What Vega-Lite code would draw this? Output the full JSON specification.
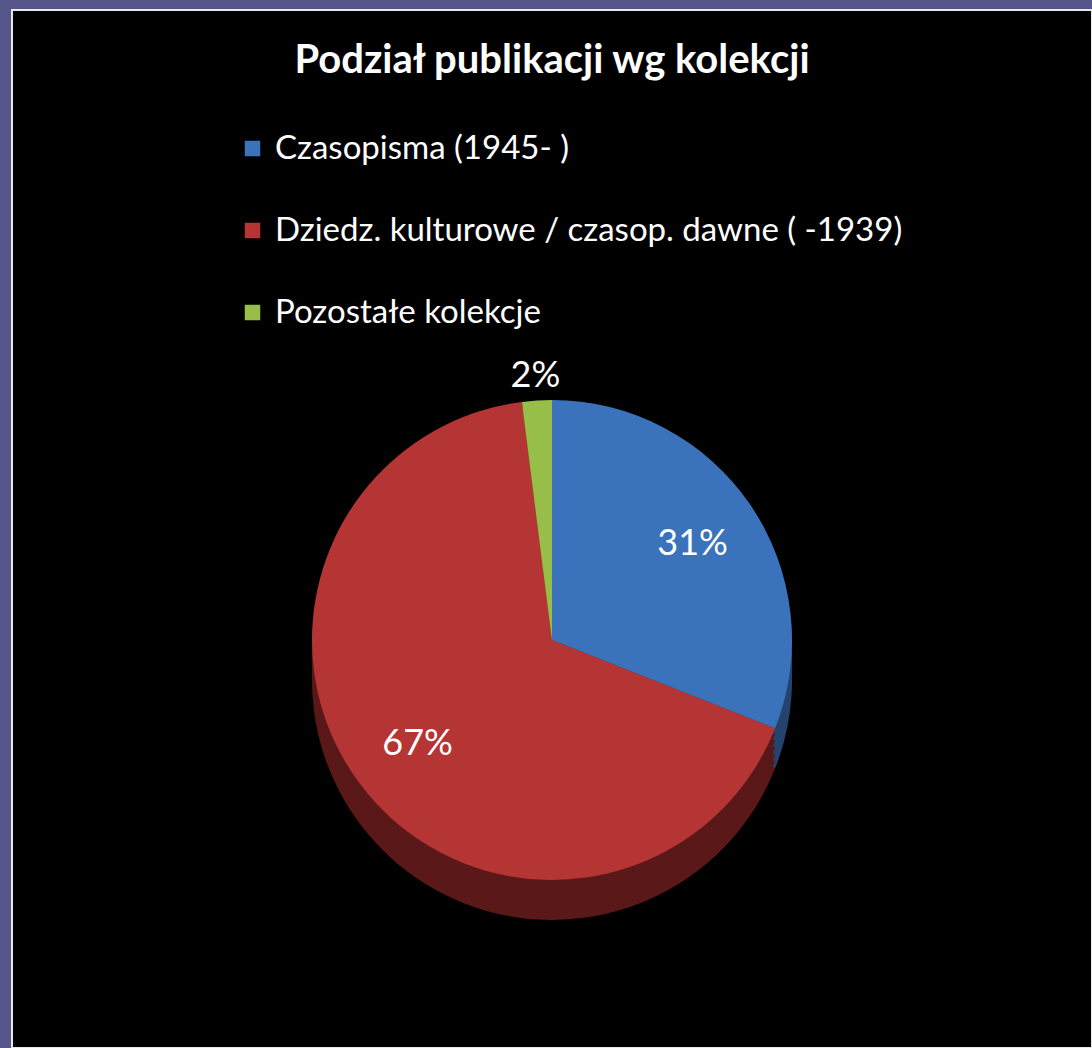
{
  "$schema": "https://vega.github.io/schema/vega-lite/v6.json",
  "width": 1092,
  "height": 1048,
  "autosize": {"type": "fit", "contains": "padding"},
  "padding": {"left": 12, "top": 10, "right": 0, "bottom": 0},
  "background": "#55568a",
  "view": {"fill": "black", "stroke": "#e8e8e8", "strokeWidth": 2},
  "title": {
    "text": "Podział publikacji wg kolekcji",
    "color": "white",
    "font": "Lato",
    "fontSize": 40,
    "fontWeight": "bold",
    "anchor": "middle",
    "offset": -71
  },
  "data": {
    "values": [
      {"k": "Czasopisma (1945- )", "v": 31, "label": "31%"},
      {"k": "Dziedz. kulturowe / czasop. dawne ( -1939)", "v": 67, "label": "67%"},
      {"k": "Pozostałe kolekcje", "v": 2, "label": "2%"}
    ]
  },
  "encoding": {
    "theta": {"field": "v", "type": "quantitative", "stack": true},
    "order": {"field": "k", "type": "ordinal", "sort": "ascending"}
  },
  "resolve": {"scale": {"color": "independent"}, "legend": {"color": "independent"}},
  "layer": [
    {
      "encoding": {
        "color": {"field": "k", "type": "nominal", "legend": null,
          "scale": {"domain": ["Czasopisma (1945- )", "Dziedz. kulturowe / czasop. dawne ( -1939)", "Pozostałe kolekcje"], "range": ["#24446e", "#5a1818", "#5c7a2a"]}}
      },
      "layer": [
        {"mark": {"type": "arc", "outerRadius": 240, "yOffset": 151}},
        {"mark": {"type": "arc", "outerRadius": 240, "yOffset": 144}},
        {"mark": {"type": "arc", "outerRadius": 240, "yOffset": 137}},
        {"mark": {"type": "arc", "outerRadius": 240, "yOffset": 130}},
        {"mark": {"type": "arc", "outerRadius": 240, "yOffset": 123}},
        {"mark": {"type": "arc", "outerRadius": 240, "yOffset": 117}}
      ]
    },
    {
      "mark": {"type": "arc", "outerRadius": 240, "yOffset": 111},
      "encoding": {
        "color": {"field": "k", "type": "nominal",
          "scale": {"domain": ["Czasopisma (1945- )", "Dziedz. kulturowe / czasop. dawne ( -1939)", "Pozostałe kolekcje"], "range": ["#3a72bb", "#b53434", "#96be48"]},
          "legend": {
            "title": null,
            "orient": "none",
            "legendX": 224,
            "legendY": 122,
            "symbolType": "square",
            "symbolSize": 240,
            "symbolStrokeWidth": 0,
            "labelColor": "white",
            "labelFont": "Lato",
            "labelFontSize": 33,
            "labelLimit": 900,
            "rowPadding": 48,
            "labelOffset": 6
          }
        }
      }
    },
    {
      "mark": {"type": "text", "radius": 170, "yOffset": 111, "color": "white", "font": "Lato", "fontSize": 36},
      "encoding": {
        "text": {"condition": {"test": "datum.v > 5", "field": "label"}, "value": ""}
      }
    },
    {
      "mark": {"type": "text", "radius": 265, "yOffset": 111, "color": "white", "font": "Lato", "fontSize": 36},
      "encoding": {
        "text": {"condition": {"test": "datum.v <= 5", "field": "label"}, "value": ""}
      }
    }
  ]
}
